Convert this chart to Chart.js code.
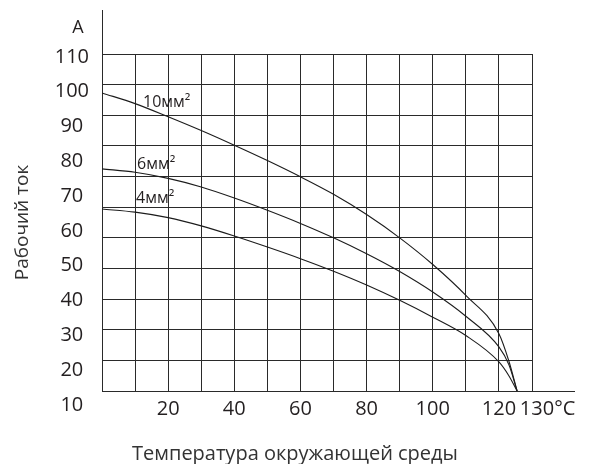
<!DOCTYPE html>
<html>
<head>
<meta charset="utf-8">
<script src="https://cdn.jsdelivr.net/npm/chart.js@4/dist/chart.umd.min.js"></script>
<style>
  html, body { margin: 0; padding: 0; background: #fff; }
  #wrap { width: 590px; height: 464px; position: relative; }
</style>
</head>
<body>
<div id="wrap"><canvas id="chart"></canvas></div>
<script>
// данные графика: допустимый ток кабеля в зависимости от температуры
const temps = [0, 10, 20, 30, 40, 50, 60, 70, 80, 90, 100, 110, 120, 123, 125.5];
const cur10 = [97.3, 93.8, 89.5, 85.0, 80.2, 75.2, 69.9, 64.2, 57.6, 50.0, 41.3, 31.2, 18.7, 9.8, 0];
const cur6 = [72.5, 71.4, 69.4, 66.6, 63.0, 59.0, 54.7, 50.0, 44.8, 39.0, 32.3, 24.4, 14.4, 8.6, 0];
const cur4 = [59.4, 58.4, 56.6, 53.9, 50.6, 47.0, 43.2, 39.1, 34.6, 29.6, 24.1, 18.1, 9.5, 5.0, 0];
const seriesNames = ['10мм²', '6мм²', '4мм²'];

// подписи осей
const xTickValues = [20, 40, 60, 80, 100, 120, 130];
const xTickLabels = ['20', '40', '60', '80', '100', '120', '      130°C'];
const yTickLabels = [10, 20, 30, 40, 50, 60, 70, 80, 90, 100, 110];

const lineColor = '#1c1c1c';
const gridColor = '#2a2a2a';
const textColor = '#231f20';

function points(ys) {
    return temps.map((t, i) => ({ x: t, y: ys[i] }));
}

function curve(label, ys) {
    return {
        label: label,
        data: points(ys),
        borderColor: lineColor,
        borderWidth: 1.1,
        pointRadius: 0,
        fill: false,
        cubicInterpolationMode: 'monotone'
    };
}

// линии осей за пределами сетки, единица "A" и подписи кривых
const extras = {
    id: 'extras',
    afterDraw(chart, args, opts) {
        const { ctx, chartArea: a, scales } = chart;
        ctx.save();
        ctx.strokeStyle = gridColor;
        ctx.lineWidth = 1;
        ctx.beginPath();
        ctx.moveTo(Math.round(a.left) + 0.5, a.top);
        ctx.lineTo(Math.round(a.left) + 0.5, opts.yAxisTop);
        ctx.moveTo(a.right, Math.round(a.bottom) + 0.5);
        ctx.lineTo(opts.xAxisEnd, Math.round(a.bottom) + 0.5);
        ctx.stroke();

        ctx.fillStyle = textColor;
        ctx.textBaseline = 'middle';
        ctx.textAlign = 'center';
        ctx.font = '18px "Open Sans"';
        ctx.fillText(opts.unit, opts.unitX, opts.unitY);

        ctx.textAlign = 'left';
        ctx.font = '16px "Open Sans"';
        chart.data.datasets.forEach((ds, i) => {
            const p = opts.labelAt[i];
            ctx.fillText(ds.label, scales.x.getPixelForValue(p[0]), scales.y.getPixelForValue(p[1]));
        });
        ctx.restore();
    }
};

const config = {
    type: 'line',
    data: {
        datasets: [
            curve(seriesNames[0], cur10),
            curve(seriesNames[1], cur6),
            curve(seriesNames[2], cur4)
        ]
    },
    plugins: [extras],
    options: {
        responsive: true,
        maintainAspectRatio: false,
        animation: false,
        layout: { padding: { top: 54, right: 0, left: 0, bottom: 0 } },
        scales: {
            x: {
                type: 'linear',
                min: 0,
                max: 130,
                ticks: {
                    stepSize: 10,
                    autoSkip: false,
                    maxRotation: 0,
                    padding: 6,
                    color: textColor,
                    font: { family: 'Open Sans', size: 20 },
                    callback: (v) => {
                        const i = xTickValues.indexOf(v);
                        return i < 0 ? '' : xTickLabels[i];
                    }
                },
                grid: { color: gridColor, lineWidth: 1, drawTicks: false },
                border: { color: gridColor, width: 1 },
                afterFit: (s) => { s.height = 32; }
            },
            y: {
                type: 'linear',
                position: 'left',
                weight: 0,
                min: 0,
                max: 110,
                ticks: { stepSize: 10, display: false },
                grid: { color: gridColor, lineWidth: 1, drawTicks: false },
                border: { color: gridColor, width: 1 },
                afterFit: (s) => { s.width = 0; }
            },
            yl: {
                type: 'linear',
                position: 'left',
                weight: 1,
                min: 14.02,
                max: 110.86,
                afterBuildTicks: (s) => { s.ticks = yTickLabels.map(v => ({ value: v })); },
                ticks: {
                    autoSkip: false,
                    crossAlign: 'center',
                    padding: 13,
                    color: textColor,
                    font: { family: 'Open Sans', size: 20 }
                },
                grid: { display: false, drawTicks: false },
                border: { display: false },
                title: {
                    display: true,
                    text: 'Рабочий ток',
                    color: '#333',
                    font: { family: 'Open Sans', size: 19 },
                    padding: { top: 11, bottom: 0 }
                },
                afterFit: (s) => { s.width = 102; }
            },
            // пустое поле справа от сетки (под продолжение оси X)
            yr: {
                type: 'linear',
                position: 'right',
                min: 0,
                max: 1,
                ticks: { display: false },
                grid: { display: false, drawTicks: false },
                border: { display: false },
                afterFit: (s) => { s.width = 58; }
            }
        },
        plugins: {
            legend: { display: false },
            tooltip: { enabled: false },
            title: {
                display: true,
                position: 'bottom',
                text: 'Температура окружающей среды',
                color: '#333',
                font: { family: 'Open Sans', size: 20, weight: 'normal', lineHeight: '20px' },
                padding: { top: 21, bottom: 0 }
            },
            extras: {
                yAxisTop: 10,
                xAxisEnd: 575,
                unit: 'A',
                unitX: 78,
                unitY: 28,
                labelAt: [[12.4, 94.2], [10.6, 74.1], [10.3, 62.7]]
            }
        }
    }
};

new Chart(document.getElementById('chart').getContext('2d'), config);
</script>
</body>
</html>
